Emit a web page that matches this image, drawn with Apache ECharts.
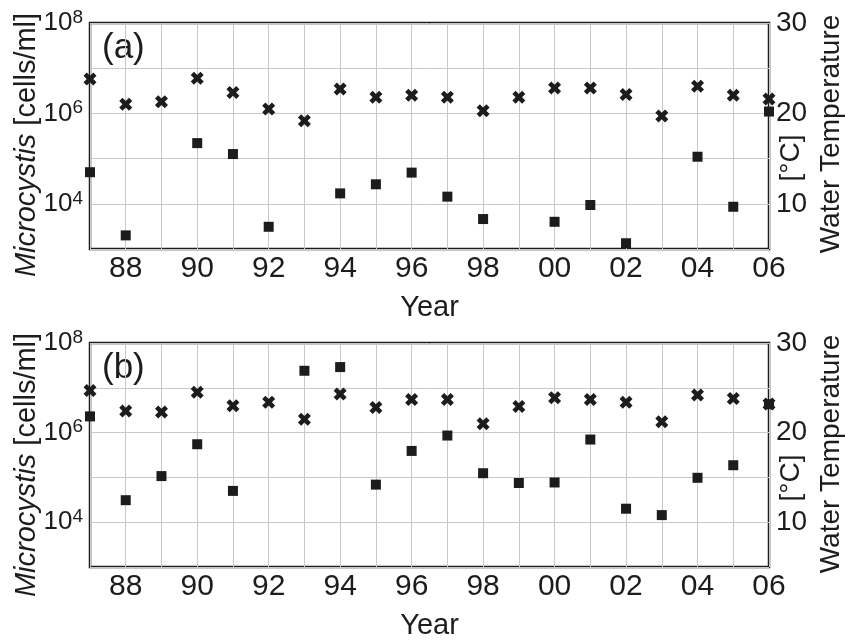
<!DOCTYPE html>
<html>
<head>
<meta charset="utf-8">
<script src="https://cdn.jsdelivr.net/npm/echarts@6/dist/echarts.min.js"></script>
<style>
html,body{margin:0;padding:0;background:#fff;}
#chart{width:845px;height:641px;}
</style>
</head>
<body>
<div id="chart"></div>
<script>
// ---- data ----
var years = [1987,1988,1989,1990,1991,1992,1993,1994,1995,1996,1997,1998,1999,2000,2001,2002,2003,2004,2005,2006];
// panel (a)
var tempA  = [23.8,21.0,21.3,23.9,22.3,20.5,19.2,22.7,21.8,22.0,21.8,20.3,21.8,22.8,22.8,22.1,19.7,23.0,22.0,21.6];
var cellsA = [5.0e4,2.0e3,null,2.2e5,1.26e5,3.1e3,null,1.7e4,2.7e4,4.9e4,1.44e4,4.6e3,null,4.0e3,9.4e3,1.34e3,null,1.1e5,8.6e3,1.1e6];
// panel (b)
var tempB  = [24.7,22.4,22.3,24.5,23.0,23.4,21.5,24.3,22.8,23.7,23.7,21.0,22.9,23.9,23.7,23.4,21.2,24.2,23.8,23.2];
var cellsB = [2.3e6,3.1e4,1.07e5,5.5e5,5.0e4,null,2.4e7,2.9e7,6.9e4,3.9e5,8.6e5,1.24e5,7.5e4,7.7e4,7.0e5,2.0e4,1.44e4,9.8e4,1.87e5,4.3e6];
var panelLabels = ['(a)','(b)'];
var xName = 'Year';
var leftNameItalic = 'Microcystis';
var leftNameRest = ' [cells/ml]';
var rightName1 = 'Water Temperature';
var rightName2 = '[°C]';

function pairs(xs, ys){
  var out = [];
  for (var i = 0; i < xs.length; i++) if (ys[i] != null) out.push([xs[i], ys[i]]);
  return out;
}

var FONT = 'Liberation Sans, Arial, Helvetica, sans-serif';
var INK = '#1c1c1c';
var GRIDC = '#c8c8c8';
var crossPath = 'path://M0,25L25,0L50,25L75,0L100,25L75,50L100,75L75,100L50,75L25,100L0,75L25,50Z';

var tops = [23, 343];
var gridH = 226;

var grids = [], xAxes = [], yAxes = [], series = [], graphics = [];
[0,1].forEach(function(p){
  grids.push({left:90, right:76, top:tops[p], height:gridH, show:true, borderColor:INK, borderWidth:2.5, backgroundColor:'transparent'});
  xAxes.push({
    type:'value', gridIndex:p, min:1987, max:2006, interval:1,
    name:xName, nameLocation:'middle', nameGap:44,
    nameTextStyle:{fontFamily:FONT, fontSize:29, color:INK},
    axisLine:{show:false}, axisTick:{show:false},
    axisLabel:{margin:5, fontFamily:FONT, fontSize:30, color:INK,
      formatter:function(v){ return (v % 2 === 0) ? String(v).slice(2) : ''; }},
    splitLine:{show:true, lineStyle:{color:GRIDC, width:1}}
  });
  yAxes.push({
    type:'log', logBase:10, gridIndex:p, min:1e3, max:1e8, position:'left',
    axisLine:{show:false}, axisTick:{show:false},
    axisLabel:{margin:7, color:INK,
      formatter:function(v){
        var e = Math.round(Math.log10(v));
        return (e % 2 === 0) ? '{b|10}{s|' + e + '}' : '';
      },
      rich:{
        b:{fontFamily:FONT, fontSize:26, lineHeight:30, color:INK},
        s:{fontFamily:FONT, fontSize:19, lineHeight:20, verticalAlign:'top', color:INK}
      }},
    splitLine:{show:true, lineStyle:{color:GRIDC, width:1}}
  });
  yAxes.push({
    type:'value', gridIndex:p, min:5, max:30, interval:5, position:'right',
    axisLine:{show:false}, axisTick:{show:false},
    axisLabel:{margin:7, fontFamily:FONT, fontSize:28, color:INK,
      formatter:function(v){ return (v % 10 === 0) ? String(v) : ''; }},
    splitLine:{show:false}
  });
  var temps = p === 0 ? tempA : tempB;
  var cells = p === 0 ? cellsA : cellsB;
  series.push({
    type:'scatter', xAxisIndex:p, yAxisIndex:p*2+1, data:pairs(years, temps),
    symbol:crossPath, symbolSize:13, clip:false, itemStyle:{color:INK, opacity:1}, z:3
  });
  series.push({
    type:'scatter', xAxisIndex:p, yAxisIndex:p*2, data:pairs(years, cells),
    symbol:'rect', symbolSize:10, clip:false, itemStyle:{color:INK, opacity:1}, z:4
  });
  var off = p * 320;
  graphics.push({type:'text', x:102, y:48+off, style:{text:panelLabels[p], fontFamily:FONT, fontSize:35, fill:INK,
    textAlign:'left', textVerticalAlign:'middle', align:'left', verticalAlign:'middle'}});
  graphics.push({type:'text', x:27, y:145+off, rotation:Math.PI/2, style:{
    text:'{i|' + leftNameItalic + '}{r|' + leftNameRest + '}', fill:INK,
    textAlign:'center', textVerticalAlign:'middle', align:'center', verticalAlign:'middle',
    rich:{i:{fontFamily:FONT, fontSize:29, fontStyle:'italic', fill:INK, color:INK},
          r:{fontFamily:FONT, fontSize:29, fill:INK, color:INK}}}});
  graphics.push({type:'text', x:831, y:134+off, rotation:Math.PI/2, style:{text:rightName1, fontFamily:FONT, fontSize:28, fill:INK,
    textAlign:'center', textVerticalAlign:'middle', align:'center', verticalAlign:'middle'}});
  graphics.push({type:'text', x:791, y:158+off, rotation:Math.PI/2, style:{text:rightName2, fontFamily:FONT, fontSize:28, fill:INK,
    textAlign:'center', textVerticalAlign:'middle', align:'center', verticalAlign:'middle'}});
});

var chart = echarts.init(document.getElementById('chart'), null, {renderer:'canvas'});
chart.setOption({
  backgroundColor:'#ffffff',
  animation:false,
  grid:grids, xAxis:xAxes, yAxis:yAxes, series:series, graphic:graphics
});
</script>
</body>
</html>
